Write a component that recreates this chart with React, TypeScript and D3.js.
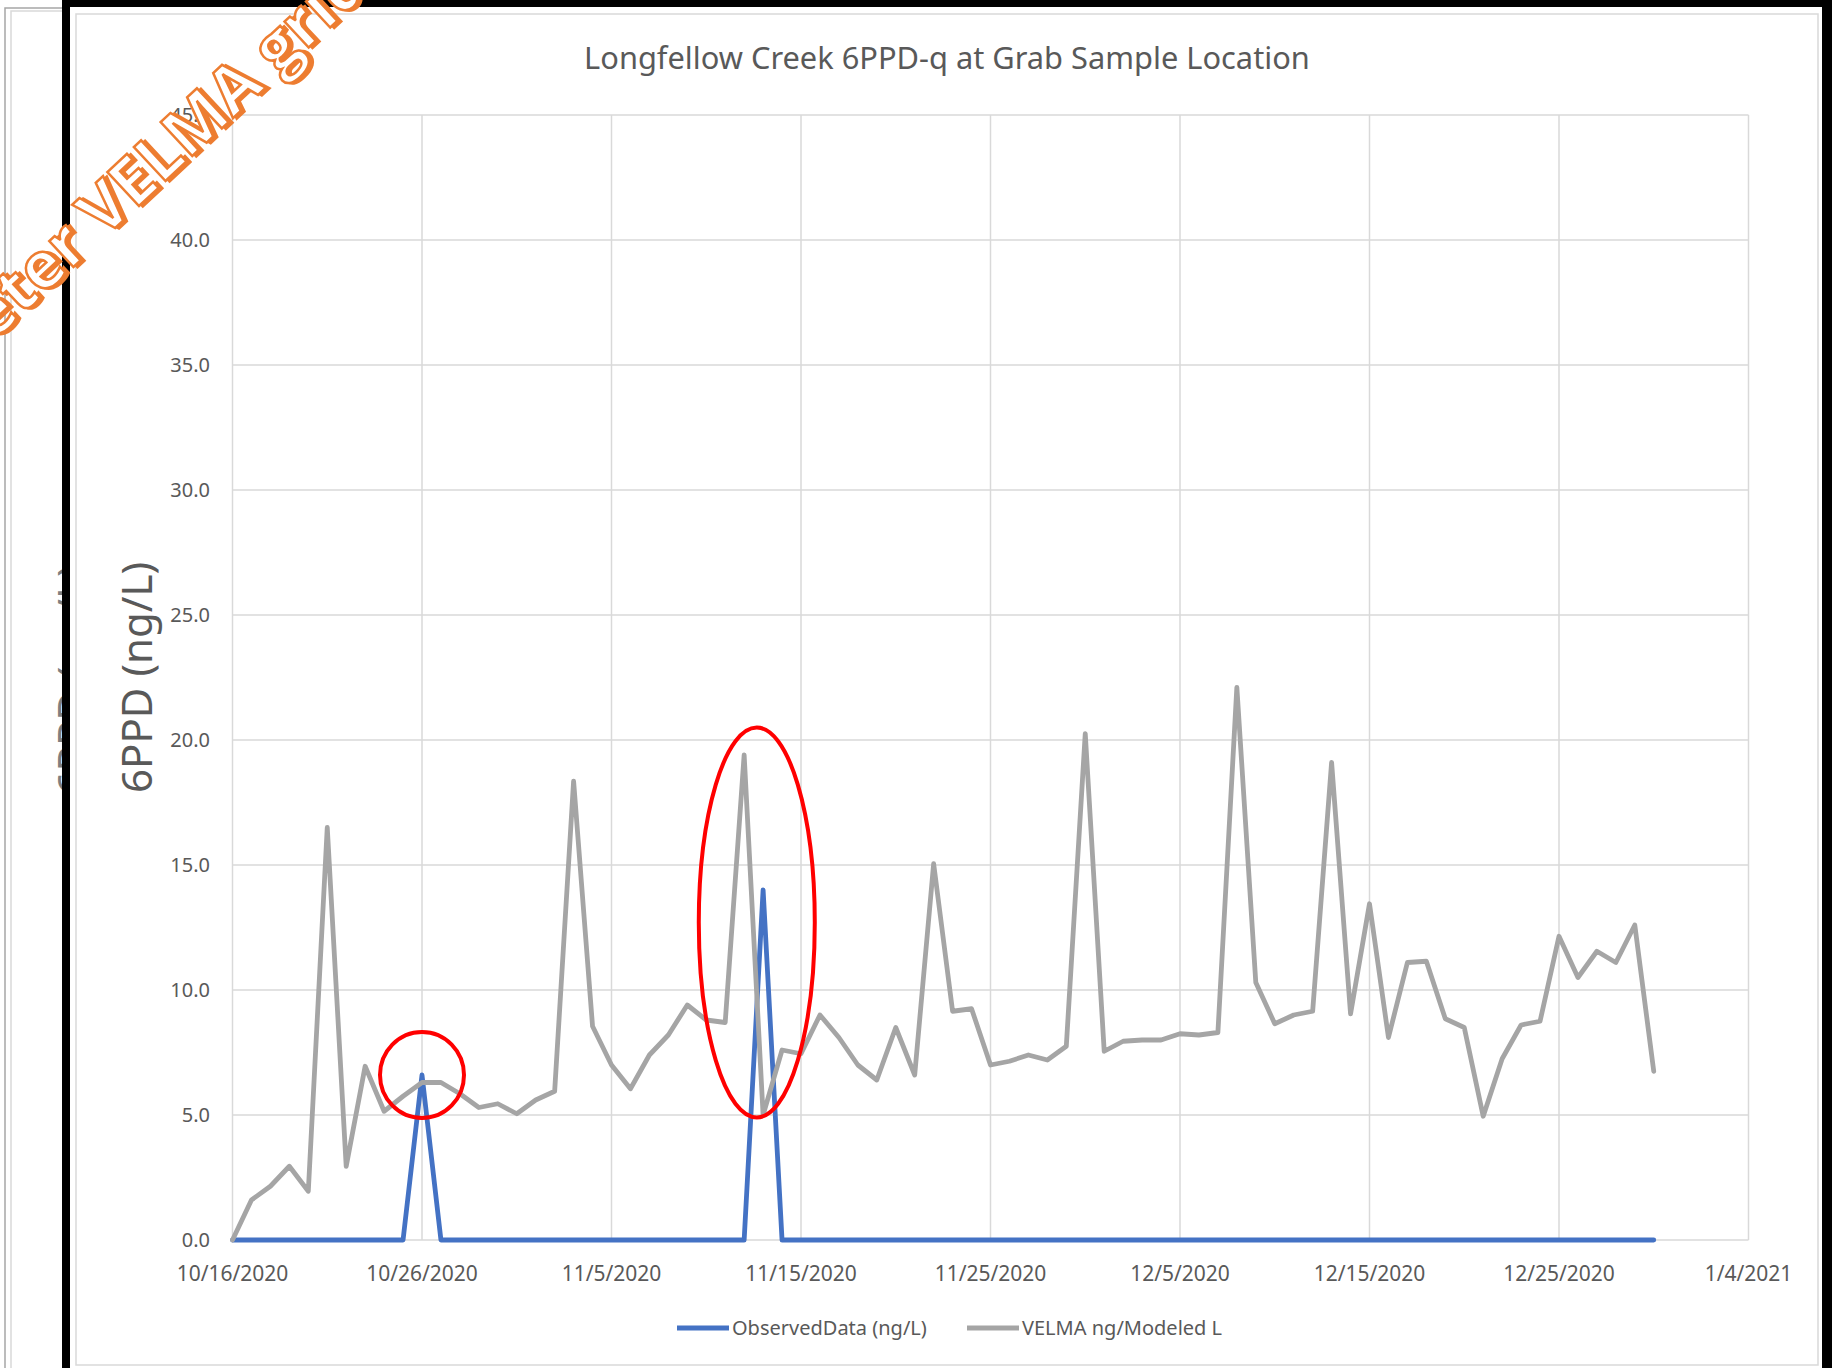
import { useEffect, useRef } from "react";
import * as d3 from "d3";

// daily values, 10/16/2020 .. 12/30/2020
const velmaModeled = [
  0.0, 1.6, 2.15, 2.95, 1.95, 16.5, 2.95, 6.95, 5.15, 5.75,
  6.3, 6.3, 5.85, 5.3, 5.45, 5.05, 5.6, 5.95, 18.35, 8.55,
  7.0, 6.05, 7.4, 8.2, 9.4, 8.8, 8.7, 19.4, 5.0, 7.6,
  7.45, 9.0, 8.1, 7.0, 6.4, 8.5, 6.6, 15.05, 9.15, 9.25,
  7.0, 7.15, 7.4, 7.2, 7.75, 20.25, 7.55, 7.95, 8.0, 8.0,
  8.25, 8.2, 8.3, 22.1, 10.3, 8.65, 9.0, 9.15, 19.1, 9.05,
  13.45, 8.1, 11.1, 11.15, 8.85, 8.5, 4.95, 7.25, 8.6, 8.75,
  12.15, 10.5, 11.55, 11.1, 12.6, 6.75,
];
const observedData = [
  0, 0, 0, 0, 0, 0, 0, 0, 0, 0,
  6.6, 0, 0, 0, 0, 0, 0, 0, 0, 0,
  0, 0, 0, 0, 0, 0, 0, 0, 14.0, 0,
  0, 0, 0, 0, 0, 0, 0, 0, 0, 0,
  0, 0, 0, 0, 0, 0, 0, 0, 0, 0,
  0, 0, 0, 0, 0, 0, 0, 0, 0, 0,
  0, 0, 0, 0, 0, 0, 0, 0, 0, 0,
  0, 0, 0, 0, 0, 0,
];
const xTickLabels = ["10/16/2020", "10/26/2020", "11/5/2020", "11/15/2020", "11/25/2020", "12/5/2020", "12/15/2020", "12/25/2020", "1/4/2021"];
const yTicks = [0, 5, 10, 15, 20, 25, 30, 35, 40, 45];
const seriesNames = ["ObservedData (ng/L)", "VELMA ng/Modeled L"];
const seriesColors = ["#4472c4", "#a5a5a5"];
// red rings drawn on the screenshot: [day index, value]
const rings = [
  { day: 10, value: 6.6, rx: 42, ry: 43 },
  { day: 27.7, value: 12.7, rx: 58, ry: 195 },
];

const W = 1832;
const H = 1368;
const plot = { left: 232.5, right: 1748.5, top: 115, bottom: 1240 };
const font = "'Noto Sans', 'Open Sans', sans-serif";
const textGray = "#595959";
const gridGray = "#d9d9d9";

export default function App() {
  const ref = useRef<SVGSVGElement>(null);

  useEffect(() => {
    if (!ref.current) return;
    const svg = d3.select(ref.current);
    svg.selectAll("*").remove();

    const parse = d3.utcParse("%m/%d/%Y");
    const tickDates = xTickLabels.map(s => parse(s) as Date);
    const start = tickDates[0];
    const x = d3.scaleUtc().domain([start, tickDates[tickDates.length - 1]]).range([plot.left, plot.right]);
    const y = d3.scaleLinear().domain([0, 45]).range([plot.bottom, plot.top]);
    const dayX = (i: number) => x(d3.utcHour.offset(start, i * 24));

    svg.append("rect").attr("width", W).attr("height", H).attr("fill", "#fff");

    // the chart sitting behind, on the left
    svg.append("path").attr("d", "M5,1368V8H62").attr("fill", "none").attr("stroke", "#a6a6a6").attr("stroke-width", 1.5);
    svg.append("path").attr("d", "M11,1368V11H62").attr("fill", "none").attr("stroke", gridGray).attr("stroke-width", 1.5);
    svg.append("text")
      .attr("transform", `translate(88,680) rotate(-90)`)
      .attr("text-anchor", "middle")
      .style("font-family", font).style("font-size", "42px").style("fill", "#7f7f7f")
      .text("6PPD (ng/L)");

    // main chart area
    svg.append("rect").attr("x", 70).attr("y", 7).attr("width", 1752).attr("height", H - 7).attr("fill", "#fff");
    svg.append("rect").attr("x", 76).attr("y", 14).attr("width", 1742).attr("height", 1351)
      .attr("fill", "none").attr("stroke", gridGray).attr("stroke-width", 1.5);

    svg.append("text")
      .attr("x", 947).attr("y", 69)
      .attr("text-anchor", "middle")
      .style("font-family", font).style("font-size", "30.8px").style("fill", textGray)
      .text("Longfellow Creek 6PPD-q at Grab Sample Location");

    const g = svg.append("g");

    // gridlines
    g.selectAll(".hgrid").data(yTicks).enter().append("line")
      .attr("x1", plot.left).attr("x2", plot.right)
      .attr("y1", d => y(d)).attr("y2", d => y(d))
      .attr("stroke", gridGray).attr("stroke-width", 1.5);
    g.selectAll(".vgrid").data(tickDates).enter().append("line")
      .attr("x1", d => x(d)).attr("x2", d => x(d))
      .attr("y1", plot.top).attr("y2", plot.bottom)
      .attr("stroke", gridGray).attr("stroke-width", 1.5);

    g.selectAll(".ylab").data(yTicks).enter().append("text")
      .attr("x", 210).attr("y", d => y(d)).attr("dy", "0.35em")
      .attr("text-anchor", "end")
      .style("font-family", font).style("font-size", "20px").style("fill", textGray)
      .text(d => d.toFixed(1));

    g.selectAll(".xlab").data(tickDates).enter().append("text")
      .attr("x", d => x(d)).attr("y", 1281)
      .attr("text-anchor", "middle")
      .style("font-family", font).style("font-size", "21px").style("fill", textGray)
      .text((d, i) => xTickLabels[i]);

    svg.append("text")
      .attr("transform", `translate(152,${(plot.top + plot.bottom) / 2}) rotate(-90)`)
      .attr("text-anchor", "middle")
      .style("font-family", font).style("font-size", "42px").style("fill", textGray)
      .text("6PPD (ng/L)");

    // series
    const line = d3.line<number>().x((d, i) => dayX(i)).y(d => y(d));
    [observedData, velmaModeled].forEach((s, k) => {
      g.append("path")
        .datum(s)
        .attr("d", line)
        .attr("fill", "none")
        .attr("stroke", seriesColors[k])
        .attr("stroke-width", 4.8)
        .attr("stroke-linejoin", "round")
        .attr("stroke-linecap", "round");
    });

    // legend
    const legendX = [677, 967];
    seriesNames.forEach((name, k) => {
      svg.append("line")
        .attr("x1", legendX[k]).attr("x2", legendX[k] + 52)
        .attr("y1", 1328).attr("y2", 1328)
        .attr("stroke", seriesColors[k]).attr("stroke-width", 4.8);
      svg.append("text")
        .attr("x", legendX[k] + 55).attr("y", 1328).attr("dy", "0.35em")
        .style("font-family", font).style("font-size", "20px").style("fill", textGray)
        .text(name);
    });

    // red rings
    svg.selectAll(".ring").data(rings).enter().append("ellipse")
      .attr("cx", d => dayX(d.day)).attr("cy", d => y(d.value))
      .attr("rx", d => d.rx).attr("ry", d => d.ry)
      .attr("fill", "none").attr("stroke", "#ff0000").attr("stroke-width", 4);

    // black frame of the screenshot
    svg.append("rect").attr("x", 62).attr("y", 0).attr("width", W - 62).attr("height", 7).attr("fill", "#000");
    svg.append("rect").attr("x", 62).attr("y", 0).attr("width", 8).attr("height", H).attr("fill", "#000");
    svg.append("rect").attr("x", 1822).attr("y", 0).attr("width", 10).attr("height", H).attr("fill", "#000");

    // orange word-art stamp
    const wm = svg.append("g").attr("transform", "translate(-7,342) rotate(-43)");
    wm.append("text")
      .attr("x", 2.5).attr("y", 3)
      .style("font-family", "'Open Sans', sans-serif").style("font-size", "65px").style("font-weight", 700)
      .style("fill", "#ed7d31").style("stroke", "#ed7d31").style("stroke-width", 2.5)
      .text("eter VELMA grid");
    wm.append("text")
      .style("font-family", "'Open Sans', sans-serif").style("font-size", "65px").style("font-weight", 700)
      .style("fill", "#fff").style("stroke", "#ed7d31").style("stroke-width", 2.5)
      .text("eter VELMA grid");
  }, []);

  return (
    <svg ref={ref} width={W} height={H} viewBox={`0 0 ${W} ${H}`}
      style={{ position: "absolute", left: 0, top: 0, display: "block" }} />
  );
}
